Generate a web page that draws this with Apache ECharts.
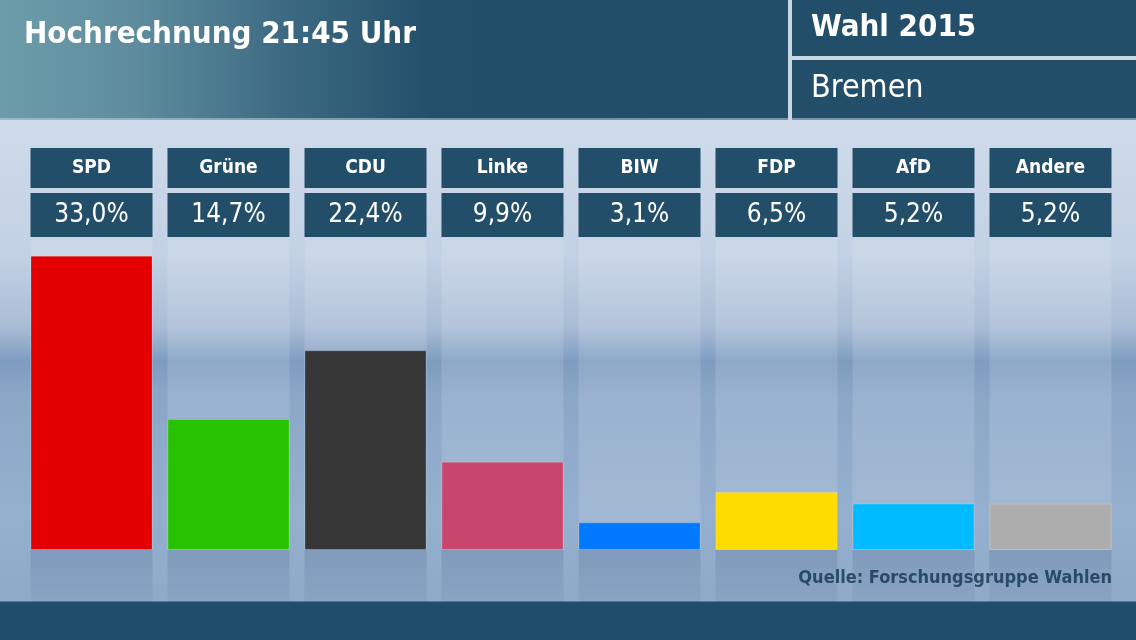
<!DOCTYPE html>
<html><head><meta charset="utf-8">
<script src="https://cdn.jsdelivr.net/npm/echarts@6/dist/echarts.min.js"></script>
<style>html,body{margin:0;padding:0;background:#1f4d6b}#c{width:1136px;height:640px}</style>
</head><body><div id="c"></div>
<script>
const parties = ['SPD','Grüne','CDU','Linke','BIW','FDP','AfD','Andere'];
const shares = [33.0, 14.7, 22.4, 9.9, 3.1, 6.5, 5.2, 5.2];
const partyColors = ['#e30000','#27c200','#363636','#c8466e','#0078ff','#ffdc00','#00bbff','#adadad'];
const titleText = 'Hochrechnung 21:45 Uhr';
const electionText = 'Wahl 2015';
const regionText = 'Bremen';
const sourceText = 'Quelle: Forschungsgruppe Wahlen';
const axisMax = 35;
const axisMin = -5.84;

const FONT = '"DejaVu Sans Condensed", "DejaVu Sans", sans-serif';
const fmt = v => v.toFixed(1).replace('.', ',') + '%';

const chart = echarts.init(document.getElementById('c'), null, {renderer:'canvas'});
chart.setOption({
  animation:false,
  backgroundColor:{type:'linear',x:0,y:0,x2:0,y2:1,colorStops:[
    {offset:0,color:'#d2deec'},{offset:0.19,color:'#cfdbea'},{offset:0.40,color:'#c2d1e4'},
    {offset:0.51,color:'#a9bdd6'},{offset:0.565,color:'#7e9cc1'},{offset:0.62,color:'#8ba7c8'},
    {offset:0.80,color:'#95afce'},{offset:0.94,color:'#8fa9c8'},{offset:1,color:'#8fa9c8'}]},
  grid:{left:23,right:17,top:238,bottom:38},
  xAxis:[
    {type:'category',data:parties.map((p,i)=>fmt(shares[i])),position:'top',
     axisLine:{show:false},axisTick:{show:false},
     axisLabel:{margin:1,color:'#fff',fontFamily:FONT,fontSize:26,fontWeight:'normal',
       backgroundColor:'#234e6a',width:122,height:44,lineHeight:44,align:'center'}},
    {type:'category',data:parties,position:'top',gridIndex:0,
     axisLine:{show:false},axisTick:{show:false},
     axisLabel:{margin:50,color:'#fff',fontFamily:FONT,fontSize:19,fontWeight:'bold',
       backgroundColor:'#234e6a',width:122,height:40,lineHeight:40,align:'center'}}
  ],
  yAxis:{type:'value',min:axisMin,max:axisMax,show:false,splitLine:{show:false}},
  series:[
    {type:'bar',xAxisIndex:0,barWidth:122,barGap:'-100%',silent:true,
     data:parties.map(()=>axisMax),
     itemStyle:{color:'rgba(255,255,255,0.13)'}},
    {type:'bar',xAxisIndex:0,barWidth:122,barGap:'-100%',silent:true,
     data:parties.map(()=>axisMin),
     itemStyle:{color:{type:'linear',x:0,y:0,x2:0,y2:1,colorStops:[
       {offset:0,color:'rgba(20,50,100,0.14)'},{offset:1,color:'rgba(20,50,100,0.05)'}]}}},
    {type:'bar',xAxisIndex:0,barWidth:122,barGap:'-100%',
     data:shares.map((v,i)=>({value:v,itemStyle:{color:partyColors[i]}})),
     itemStyle:{borderColor:'rgba(255,255,255,0.18)',borderWidth:1}}
  ],
  graphic:[
    {type:'rect',left:0,top:0,shape:{width:1136,height:120},
     style:{fill:{type:'linear',x:0,y:0,x2:1,y2:0,colorStops:[
       {offset:0,color:'#6d9ca9'},{offset:0.12,color:'#5e8c9e'},{offset:0.25,color:'#3d6a82'},
       {offset:0.38,color:'#244f6b'},{offset:1,color:'#234e6a'}]}}},
    {type:'rect',left:788,top:0,shape:{width:4,height:120},style:{fill:'#c9d6e6'}},
    {type:'rect',left:792,top:56,shape:{width:344,height:4},style:{fill:'#c9d6e6'}},
    {type:'rect',left:0,top:118,shape:{width:1136,height:2},style:{fill:'#c9d6e6',opacity:0.5}},
    {type:'text',left:24,top:19,style:{text:titleText,fill:'#fff',font:'bold 31px '+FONT}},
    {type:'text',left:811,top:12,style:{text:electionText,fill:'#fff',font:'bold 31px '+FONT}},
    {type:'text',left:811,top:73,style:{text:regionText,fill:'#fff',font:'normal 32px '+FONT}},
    {type:'text',right:24,top:569,style:{text:sourceText,fill:'#294d6a',font:'bold 18px '+FONT}},
    {type:'rect',left:0,top:602,shape:{width:1136,height:38},style:{fill:'#1f4d6b'}},
    {type:'rect',left:0,top:601,shape:{width:1136,height:1},style:{fill:'#5a7b98'}}
  ]
});
</script></body></html>
